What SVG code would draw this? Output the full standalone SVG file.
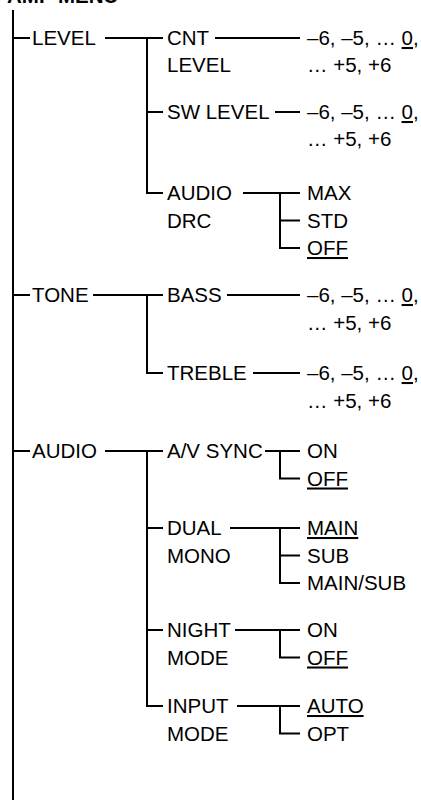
<svg xmlns="http://www.w3.org/2000/svg" width="421" height="800" viewBox="0 0 421 800">
<style>
text{font-family:"Liberation Sans",Arial,Helvetica,sans-serif;font-size:20.5px;fill:#000}
.t{font-weight:bold}
.u{text-decoration:underline}
.c line,.c path{stroke:#000;stroke-width:2;fill:none}
</style>
<rect width="421" height="800" fill="#fff"/>
<text class="t" x="7" y="3">AMP MENU</text>
<g class="c" id="connectors">
<line x1="13" y1="10" x2="13" y2="800"/>
<line x1="13" y1="38" x2="30" y2="38"/>
<line x1="13" y1="295" x2="30" y2="295"/>
<line x1="13" y1="451" x2="30" y2="451"/>
<line x1="105" y1="38" x2="163" y2="38"/>
<path d="M147 38V193H163M147 112H163"/>
<line x1="93" y1="295" x2="163" y2="295"/>
<path d="M147 295V373H163"/>
<line x1="105" y1="451" x2="163" y2="451"/>
<path d="M147 451V706H163M147 528H163M147 630H163"/>
<line x1="215" y1="38" x2="300" y2="38"/>
<line x1="275" y1="112" x2="300" y2="112"/>
<line x1="243" y1="193" x2="300" y2="193"/>
<path d="M280 193V248H300M280 220.5H300"/>
<line x1="227" y1="295" x2="300" y2="295"/>
<line x1="253" y1="373" x2="300" y2="373"/>
<line x1="265" y1="451" x2="300" y2="451"/>
<path d="M280 451V478.5H300"/>
<line x1="230" y1="528" x2="300" y2="528"/>
<path d="M280 528V583H300M280 555.5H300"/>
<line x1="235" y1="630" x2="300" y2="630"/>
<path d="M280 630V657.5H300"/>
<line x1="237" y1="706" x2="300" y2="706"/>
<path d="M280 706V733.5H300"/>
</g>
<g id="level"><text x="32" y="45">LEVEL</text></g>
<g id="cnt-level"><text x="167" y="45">CNT</text><text x="167" y="72">LEVEL</text></g>
<g id="cnt-values"><text x="307" y="45">–6, –5, … <tspan class="u">0</tspan>,</text><text x="307" y="72">… +5, +6</text></g>
<g id="sw-level"><text x="167" y="119">SW LEVEL</text></g>
<g id="sw-values"><text x="307" y="119">–6, –5, … <tspan class="u">0</tspan>,</text><text x="307" y="146">… +5, +6</text></g>
<g id="audio-drc"><text x="167" y="200">AUDIO</text><text x="167" y="227.5">DRC</text></g>
<g id="drc-max"><text x="307" y="200">MAX</text></g>
<g id="drc-std"><text x="307" y="227.5">STD</text></g>
<g id="drc-off"><text x="307" y="255"><tspan class="u">OFF</tspan></text></g>
<g id="tone"><text x="32" y="302">TONE</text></g>
<g id="bass"><text x="167" y="302">BASS</text></g>
<g id="bass-values"><text x="307" y="302">–6, –5, … <tspan class="u">0</tspan>,</text><text x="307" y="329.5">… +5, +6</text></g>
<g id="treble"><text x="167" y="380">TREBLE</text></g>
<g id="treble-values"><text x="307" y="380">–6, –5, … <tspan class="u">0</tspan>,</text><text x="307" y="407.5">… +5, +6</text></g>
<g id="audio"><text x="32" y="458">AUDIO</text></g>
<g id="av-sync"><text x="167" y="458">A/V SYNC</text></g>
<g id="av-on"><text x="307" y="458">ON</text></g>
<g id="av-off"><text x="307" y="485.5"><tspan class="u">OFF</tspan></text></g>
<g id="dual-mono"><text x="167" y="535">DUAL</text><text x="167" y="562.5">MONO</text></g>
<g id="dm-main"><text x="307" y="535"><tspan class="u">MAIN</tspan></text></g>
<g id="dm-sub"><text x="307" y="562.5">SUB</text></g>
<g id="dm-mainsub"><text x="307" y="590">MAIN/SUB</text></g>
<g id="night-mode"><text x="167" y="637">NIGHT</text><text x="167" y="664.5">MODE</text></g>
<g id="nm-on"><text x="307" y="637">ON</text></g>
<g id="nm-off"><text x="307" y="664.5"><tspan class="u">OFF</tspan></text></g>
<g id="input-mode"><text x="167" y="713">INPUT</text><text x="167" y="740.5">MODE</text></g>
<g id="im-auto"><text x="307" y="713"><tspan class="u">AUTO</tspan></text></g>
<g id="im-opt"><text x="307" y="740.5">OPT</text></g>
</svg>
